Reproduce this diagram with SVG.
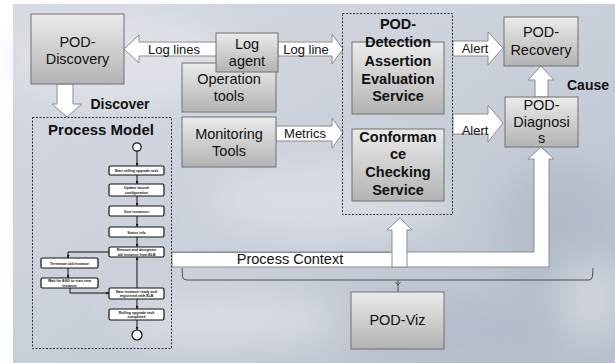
<svg xmlns="http://www.w3.org/2000/svg" width="615" height="363" viewBox="0 0 615 363">
<style>
.t{font-family:"Liberation Sans",Arial,sans-serif;fill:#111;text-anchor:middle}
.n{font-size:14.5px}
.b{font-size:14.5px;font-weight:bold}
.l{font-size:13px}
.box{fill:url(#bg);stroke:#707070;stroke-width:1}
.arr{fill:#fff;stroke:#8c8c8c;stroke-width:1}
.dash{fill:none;stroke:#333;stroke-width:1;stroke-dasharray:2,1.5}
.fb{fill:#fff;stroke:#111;stroke-width:1.2}
.ft{font-family:"Liberation Sans",Arial,sans-serif;font-size:3.6px;font-weight:bold;fill:#111;text-anchor:middle}
.fl{fill:none;stroke:#111;stroke-width:1}
</style>
<defs>
<linearGradient id="bg" x1="0" y1="0" x2="0" y2="1">
<stop offset="0" stop-color="#ebebeb"/>
<stop offset="1" stop-color="#b3b3b3"/>
</linearGradient>
<linearGradient id="sky" x1="0" y1="0" x2="1" y2="1">
<stop offset="0" stop-color="#d6dae1"/>
<stop offset="0.5" stop-color="#cad0da"/>
<stop offset="1" stop-color="#b7bfcc"/>
</linearGradient>
<filter id="blur" x="-50%" y="-50%" width="200%" height="200%"><feGaussianBlur stdDeviation="18"/></filter>
<marker id="ah" viewBox="0 0 6 6" refX="6" refY="3" markerWidth="3" markerHeight="3" orient="auto"><path d="M0,0 L6,3 L0,6 z" fill="#111"/></marker>
</defs>
<g id="background">
<rect x="13" y="4" width="602" height="359" fill="url(#sky)"/>
<g filter="url(#blur)" opacity="0.7">
<ellipse cx="120" cy="60" rx="110" ry="45" fill="#e4e7ec"/>
<ellipse cx="330" cy="200" rx="120" ry="40" fill="#dfe2e7"/>
<ellipse cx="230" cy="320" rx="110" ry="25" fill="#e2e5ea"/>
<ellipse cx="560" cy="230" rx="60" ry="70" fill="#aeb7c6"/>
<ellipse cx="470" cy="330" rx="120" ry="30" fill="#b0b8c7"/>
<ellipse cx="590" cy="300" rx="30" ry="40" fill="#dadee5"/>
</g>
</g>
<g id="connectors">
<polygon id="log-lines" class="arr" points="124,49 139,35 139,42 217,42 217,56 139,56 139,63"/>
<text class="t l" x="174" y="54">Log lines</text>
<polygon id="log-line" class="arr" points="278,42 332,42 332,34 343,49 332,64 332,56 278,56"/>
<text class="t l" x="306" y="54">Log line</text>
<polygon id="metrics" class="arr" points="276,126 332,126 332,118 343,133 332,148 332,141 276,141"/>
<text class="t l" x="305" y="138">Metrics</text>
<polygon id="alert1" class="arr" points="453,41 488,41 488,32 503,48 488,65 488,56 453,56"/>
<text class="t l" x="475" y="53">Alert</text>
<polygon id="alert2" class="arr" points="453,114 488,114 488,105 503,123 488,142 488,134 453,134"/>
<text class="t l" x="475" y="135">Alert</text>
<polygon id="cause" class="arr" points="535,97 535,80 528,80 541,66 554,80 548,80 548,97"/>
<text class="t" style="font-size:14px;font-weight:bold" x="588" y="90">Cause</text>
<polygon id="discover" class="arr" points="57,84 73,84 73,104 82,104 67,117 52,104 57,104"/>
<text class="t" style="font-size:14px;font-weight:bold" x="120" y="109">Discover</text>
<polygon id="process-context" class="arr" points="172,252 534,252 534,159 528,159 541,147 554,159 549,159 549,267 172,267"/>
<polygon id="process-context-branch" class="arr" points="392,267 392,230 387,230 400,218 412,230 407,230 407,267"/>
<line x1="173" y1="252.5" x2="391" y2="252.5" stroke="#8c8c8c"/>
<text class="t n" x="290" y="264">Process Context</text>
<path id="bracket" d="M182,268 L182.5,277 Q183,280 187,280 L589,280 Q592,280 592.5,276 L593,268" fill="none" stroke="#4a4f58" stroke-width="1"/>
<path d="M398,280 L398,292 M395.5,282 L398,285 L400.5,282" fill="none" stroke="#4a4f58" stroke-width="1"/>
</g>
<g id="pod-discovery">
<rect class="box" x="31" y="14" width="93" height="70"/>
<text class="t n" x="77.5" y="47">POD-</text>
<text class="t n" x="77.5" y="64">Discovery</text>
</g>
<g id="operation-tools">
<rect class="box" x="182" y="63" width="94" height="49"/>
<text class="t n" x="229" y="84">Operation</text>
<text class="t n" x="229" y="101">tools</text>
</g>
<g id="log-agent">
<rect class="box" x="216" y="33" width="62" height="39"/>
<text class="t n" x="247" y="49">Log</text>
<text class="t n" x="247" y="66">agent</text>
</g>
<g id="monitoring-tools">
<rect class="box" x="182" y="117" width="94" height="50"/>
<text class="t n" x="229" y="139">Monitoring</text>
<text class="t n" x="229" y="156">Tools</text>
</g>
<g id="pod-detection">
<rect class="dash" x="342.5" y="13.5" width="110" height="201"/>
<g id="assertion-evaluation-service">
<rect class="box" x="352" y="42" width="92" height="72"/>
<text class="t b" x="398" y="66">Assertion</text>
<text class="t b" x="398" y="84">Evaluation</text>
<text class="t b" x="398" y="101">Service</text>
</g>
<g id="conformance-checking-service">
<rect class="box" x="352" y="129" width="92" height="72"/>
<text class="t b" x="398" y="142">Conforman</text>
<text class="t b" x="398" y="159">ce</text>
<text class="t b" x="398" y="177">Checking</text>
<text class="t b" x="398" y="195">Service</text>
</g>
<text class="t b" x="398" y="29">POD-</text>
<text class="t b" x="398" y="47">Detection</text>
</g>
<g id="pod-recovery">
<rect class="box" x="504" y="17" width="74" height="49"/>
<text class="t n" x="541" y="37">POD-</text>
<text class="t n" x="541" y="55">Recovery</text>
</g>
<g id="pod-diagnosis">
<rect class="box" x="505" y="97" width="73" height="50"/>
<text class="t n" x="541.5" y="110">POD-</text>
<text class="t n" x="541.5" y="127">Diagnosi</text>
<text class="t n" x="541.5" y="143">s</text>
</g>
<g id="pod-viz">
<rect class="box" x="351" y="292" width="93" height="57"/>
<text class="t n" x="397.5" y="325">POD-Viz</text>
</g>
<g id="process-model">
<rect class="dash" x="32.5" y="117.5" width="139" height="231"/>
<text class="t" style="font-size:15px;font-weight:bold" x="101" y="135">Process Model</text>
<g id="flow-edges">
<line class="fl" x1="137" y1="151" x2="137" y2="166" marker-end="url(#ah)"/>
<line class="fl" x1="137" y1="175" x2="137" y2="184" marker-end="url(#ah)"/>
<line class="fl" x1="137" y1="196" x2="137" y2="206" marker-end="url(#ah)"/>
<line class="fl" x1="137" y1="216" x2="137" y2="227" marker-end="url(#ah)"/>
<line class="fl" x1="137" y1="237" x2="137" y2="247" marker-end="url(#ah)"/>
<path class="fl" d="M109,252 L68,252 L68,258" marker-end="url(#ah)"/>
<line class="fl" x1="68" y1="268" x2="68" y2="278" marker-end="url(#ah)"/>
<path class="fl" d="M70,288 L70,293 L109,293" marker-end="url(#ah)"/>
<line class="fl" x1="137" y1="288" x2="137" y2="257" marker-end="url(#ah)"/>
<line class="fl" x1="137" y1="299" x2="137" y2="309" marker-end="url(#ah)"/>
<line class="fl" x1="137" y1="320" x2="137" y2="330" marker-end="url(#ah)"/>
</g>
<circle class="fb" cx="137" cy="147" r="4.2"/>
<rect class="fb" x="109" y="166" width="55" height="9" rx="1.5"/>
<text class="ft" x="136.5" y="172">Start rolling upgrade task</text>
<rect class="fb" x="109" y="184" width="55" height="12" rx="1.5"/>
<text class="ft" x="136.5" y="189">Update launch</text>
<text class="ft" x="136.5" y="193.5">configuration</text>
<rect class="fb" x="109" y="206" width="55" height="10" rx="1.5"/>
<text class="ft" x="136.5" y="212.5">Sort instances</text>
<rect class="fb" x="109" y="227" width="55" height="10" rx="1.5"/>
<text class="ft" x="136.5" y="233.5">Status info</text>
<rect class="fb" x="109" y="247" width="55" height="10" rx="1.5"/>
<text class="ft" x="136.5" y="251">Remove and deregister</text>
<text class="ft" x="136.5" y="255.5">old instance from ELB</text>
<rect class="fb" x="41" y="258" width="57" height="10" rx="1.5"/>
<text class="ft" x="69.5" y="264.5">Terminate old instance</text>
<rect class="fb" x="41" y="278" width="57" height="10" rx="1.5"/>
<text class="ft" x="69.5" y="282">Wait for ASG to start new</text>
<text class="ft" x="69.5" y="286.5">instance</text>
<rect class="fb" x="109" y="288" width="55" height="11" rx="1.5"/>
<text class="ft" x="136.5" y="292.5">New instance ready and</text>
<text class="ft" x="136.5" y="297">registered with ELB</text>
<rect class="fb" x="109" y="309" width="55" height="11" rx="1.5"/>
<text class="ft" x="136.5" y="313.5">Rolling upgrade task</text>
<text class="ft" x="136.5" y="318">completed</text>
<circle class="fb" cx="137" cy="335" r="5"/>
</g>
</svg>
